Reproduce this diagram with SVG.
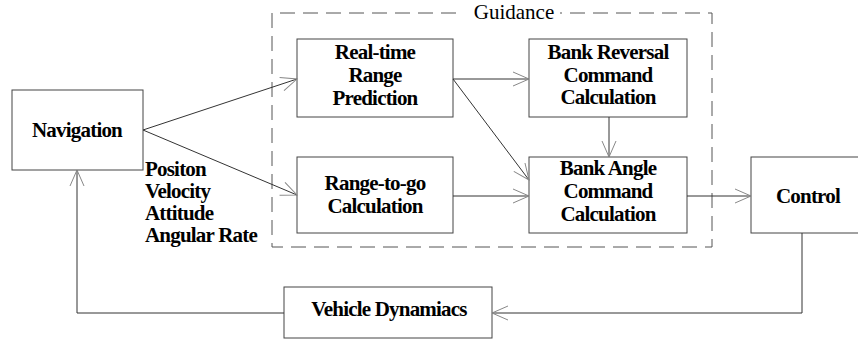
<svg xmlns="http://www.w3.org/2000/svg" width="858" height="343" viewBox="0 0 858 343">
<style>
.box{fill:#fff;stroke:#444;stroke-width:1}
.t{font-family:'Liberation Serif',serif;font-weight:bold;font-size:21px;fill:#000;text-anchor:middle;letter-spacing:-0.8px}
.lbl{font-family:'Liberation Serif',serif;font-weight:bold;font-size:21px;fill:#000;letter-spacing:-0.8px}
.g{font-family:'Liberation Serif',serif;font-size:21px;fill:#000;text-anchor:middle}
.c{fill:none;stroke:#333;stroke-width:1}
.dash{fill:none;stroke:#555;stroke-width:1;stroke-dasharray:15 8}
</style>
<defs>
<marker id="a" markerUnits="userSpaceOnUse" viewBox="-17 -9 19 18" refX="0" refY="0" markerWidth="19" markerHeight="18" orient="auto">
<path d="M-16,-7 L0,0 L-16,7" fill="none" stroke="#888" stroke-width="1"/>
</marker>
</defs>
<g id="guidance">
<path class="dash" d="M456,13 L272,13 L272,247 L712,247 L712,13 L560,13"/>
<text class="g" font-family="Liberation Serif" x="514" y="19">Guidance</text>
</g>
<g id="navigation"><rect class="box" x="12" y="90" width="131" height="80"/><text class="t" font-family="Liberation Serif" x="77" y="137">Navigation</text></g>
<g id="realtime"><rect class="box" x="297" y="39" width="156" height="78"/><text class="t" font-family="Liberation Serif" x="375" y="59">Real-time</text><text class="t" font-family="Liberation Serif" x="375" y="82">Range</text><text class="t" font-family="Liberation Serif" x="375" y="105">Prediction</text></g>
<g id="bankrev"><rect class="box" x="529" y="39" width="158" height="78"/><text class="t" font-family="Liberation Serif" x="608" y="59">Bank Reversal</text><text class="t" font-family="Liberation Serif" x="608" y="82">Command</text><text class="t" font-family="Liberation Serif" x="608" y="104">Calculation</text></g>
<g id="rangetogo"><rect class="box" x="297" y="157" width="156" height="76"/><text class="t" font-family="Liberation Serif" x="375" y="190">Range-to-go</text><text class="t" font-family="Liberation Serif" x="375" y="213">Calculation</text></g>
<g id="bankangle"><rect class="box" x="529" y="157" width="158" height="76"/><text class="t" font-family="Liberation Serif" x="608" y="175">Bank Angle</text><text class="t" font-family="Liberation Serif" x="608" y="198">Command</text><text class="t" font-family="Liberation Serif" x="608" y="221">Calculation</text></g>
<g id="control"><rect class="box" x="751" y="157" width="120" height="76"/><text class="t" font-family="Liberation Serif" x="808" y="203">Control</text></g>
<g id="vehicle"><rect class="box" x="284" y="287" width="208" height="51"/><text class="t" font-family="Liberation Serif" x="389" y="316">Vehicle Dynamiacs</text></g>
<g id="states">
<text class="lbl" font-family="Liberation Serif" x="145" y="176">Positon</text>
<text class="lbl" font-family="Liberation Serif" x="145" y="198">Velocity</text>
<text class="lbl" font-family="Liberation Serif" x="145" y="220">Attitude</text>
<text class="lbl" font-family="Liberation Serif" x="145" y="242">Angular Rate</text>
</g>
<g id="connectors">
<line class="c" x1="143" y1="130" x2="297" y2="79" marker-end="url(#a)"/>
<line class="c" x1="143" y1="130" x2="297" y2="195" marker-end="url(#a)"/>
<line class="c" x1="453" y1="79" x2="529" y2="79" marker-end="url(#a)"/>
<line class="c" x1="453" y1="79" x2="529" y2="180" marker-end="url(#a)"/>
<line class="c" x1="453" y1="196" x2="529" y2="196" marker-end="url(#a)"/>
<line class="c" x1="609" y1="117" x2="609" y2="157" marker-end="url(#a)"/>
<line class="c" x1="687" y1="196" x2="751" y2="196" marker-end="url(#a)"/>
<polyline class="c" points="802,233 802,313 492,313" marker-end="url(#a)"/>
<polyline class="c" points="284,313 77,313 77,170" marker-end="url(#a)"/>
</g>
</svg>
